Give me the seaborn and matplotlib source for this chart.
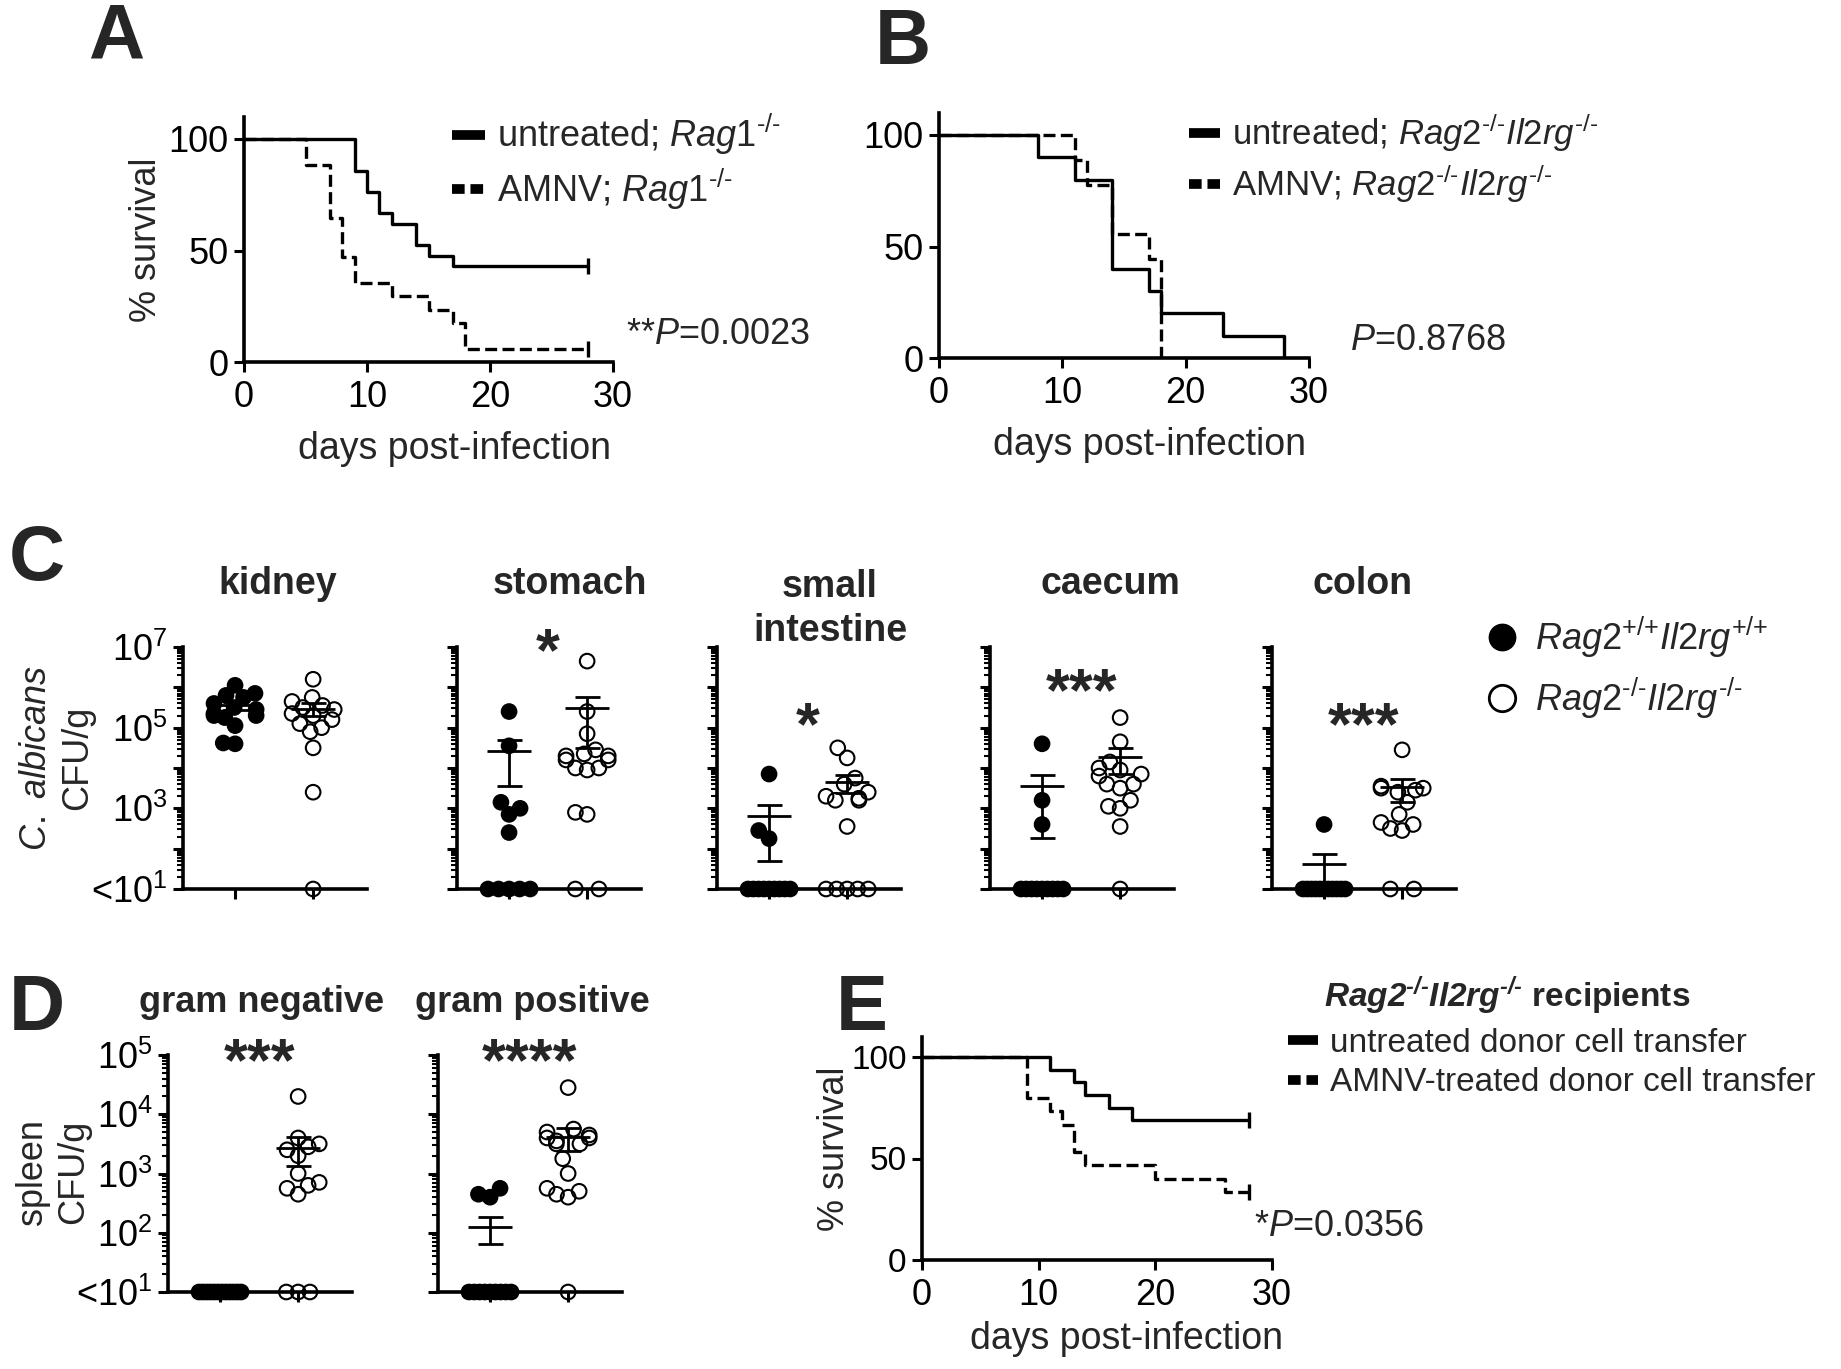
import warnings
import numpy as np
import pandas as pd
import matplotlib
matplotlib.use("Agg")
import matplotlib.pyplot as plt
from matplotlib.lines import Line2D
import seaborn as sns

warnings.filterwarnings("ignore")

# survival curves: day of each step and % survival after it
a_untreated_day = [0, 9, 10, 11, 12, 14, 15, 17, 28]
a_untreated_surv = [100, 85.7, 76.2, 66.7, 61.9, 52.4, 47.6, 42.9, 42.9]
a_amnv_day = [0, 5, 7, 8, 9, 12, 15, 17, 18, 28]
a_amnv_surv = [100, 88.2, 64.7, 47.1, 35.3, 29.4, 23.5, 17.6, 5.9, 5.9]

b_untreated_day = [0, 8, 11, 14, 17, 18, 23, 28]
b_untreated_surv = [100, 90, 80, 40, 30, 20, 10, 0]
b_amnv_day = [0, 11, 12, 14, 17, 18]
b_amnv_surv = [100, 88.9, 77.8, 55.6, 44.4, 0]

e_untreated_day = [0, 11, 13, 14, 16, 18, 28]
e_untreated_surv = [100, 93.8, 87.5, 81.3, 75.0, 68.8, 68.8]
e_amnv_day = [0, 9, 11, 12, 13, 14, 20, 26, 28]
e_amnv_surv = [100, 80.0, 73.3, 66.7, 53.3, 46.7, 40.0, 33.3, 33.3]

# CFU/g as log10, 1 means below detection (<10^1)
organs = ["kidney", "stomach", "small\nintestine", "caecum", "colon"]
kidney_wt = [6.05, 5.85, 5.8, 5.75, 5.6, 5.5, 5.45, 5.35, 5.3, 5.3, 5.25, 5.05, 4.62, 4.6]
kidney_ko = [6.2, 5.75, 5.65, 5.55, 5.5, 5.45, 5.35, 5.3, 5.2, 5.1, 5.0, 4.9, 4.5, 3.4, 1]
stomach_wt = [5.4, 4.55, 3.15, 3.0, 2.85, 2.4, 1, 1, 1, 1, 1]
stomach_ko = [6.65, 5.4, 4.85, 4.45, 4.35, 4.3, 4.3, 4.2, 4.2, 4.0, 4.0, 3.95, 2.9, 2.85, 1, 1]
small_int_wt = [3.85, 2.45, 2.25, 1, 1, 1, 1, 1, 1, 1, 1, 1]
small_int_ko = [4.5, 4.25, 3.75, 3.6, 3.4, 3.3, 3.25, 3.2, 3.2, 2.55, 1, 1, 1, 1, 1]
caecum_wt = [4.6, 3.2, 2.6, 1, 1, 1, 1, 1, 1, 1, 1, 1]
caecum_ko = [5.25, 4.65, 4.15, 4.0, 3.95, 3.85, 3.8, 3.6, 3.6, 3.5, 3.2, 3.05, 3.0, 2.55, 1]
colon_wt = [2.6, 1, 1, 1, 1, 1, 1, 1, 1, 1, 1, 1]
colon_ko = [4.45, 3.55, 3.5, 3.5, 3.45, 3.4, 3.15, 2.85, 2.65, 2.6, 2.5, 2.45, 1, 1]
c_stars = ["", "*", "*", "***", "***"]
c_star_y = [0, 6.8, 4.97, 5.83, 4.97]

bacteria = ["gram negative", "gram positive"]
gramneg_wt = [1, 1, 1, 1, 1, 1, 1, 1, 1, 1, 1, 1]
gramneg_ko = [4.3, 3.6, 3.5, 3.45, 3.4, 3.3, 3.0, 2.85, 2.8, 2.75, 2.65, 1, 1, 1]
grampos_wt = [2.75, 2.65, 2.6, 1, 1, 1, 1, 1, 1, 1, 1, 1]
grampos_ko = [4.45, 3.75, 3.7, 3.65, 3.6, 3.6, 3.55, 3.5, 3.5, 3.25, 3.0, 2.75, 2.7, 2.65, 2.6, 1]
d_stars = ["***", "****"]
d_star_y = [4.83, 4.83]

sns.set_theme(style="ticks")
plt.rcParams["font.family"] = ["Liberation Sans", "DejaVu Sans"]
plt.rcParams["mathtext.fontset"] = "custom"
plt.rcParams["mathtext.rm"] = "Liberation Sans"
plt.rcParams["mathtext.it"] = "Liberation Sans:italic"
plt.rcParams["mathtext.bf"] = "Liberation Sans:bold"
try:
    plt.rcParams["mathtext.bfit"] = "Liberation Sans:italic:bold"
except KeyError:
    pass

W, H = 1841, 1369
FS = 26
HY = "\u2010"  # plain hyphen, so mathtext adds no operator spacing
KO = "{%s/%s}" % (HY, HY)
PL = "{{+}/{+}}"
SWARM_HALF = 0.27
fig = plt.figure(figsize=(W / 100, H / 100), dpi=100)


def fx(px):
    return px / W


def fy(py):
    return 1 - py / H


def add_ax(left, top, right, bottom):
    return fig.add_axes([fx(left), fy(bottom), (right - left) / W, (bottom - top) / H])


def style(ax):
    sns.despine(ax=ax)
    for s in ("left", "bottom"):
        ax.spines[s].set_linewidth(2.6)
        ax.spines[s].set_color("black")
    ax.tick_params(which="major", direction="out", length=7, width=2.2, colors="black",
                   labelsize=FS)
    ax.tick_params(axis="x", pad=6)
    ax.tick_params(axis="y", pad=4)
    ax.tick_params(which="minor", direction="out", length=4, width=1.5, colors="black")
    ax.set_facecolor("none")
    ax.grid(False)


def km_panel(ax, curves, labels, leg_xy, leg_fs, p_text, p_xy, lab_x):
    for (day, surv), ls in zip(curves, ["-", (0, (3.6, 1.6))]):
        df = pd.DataFrame({"day": day, "surv": surv})
        sns.lineplot(data=df, x="day", y="surv", drawstyle="steps-post", estimator=None,
                     sort=False, color="black", lw=2.4, linestyle=ls, ax=ax)
        if surv[-1] > 0:
            ax.plot(day[-1], surv[-1], marker="|", ms=12, mew=2.4, color="black")
    style(ax)
    ax.set_xlim(0, 30)
    ax.set_ylim(0, 110)
    ax.set_xticks([0, 10, 20, 30])
    ax.set_yticks([0, 50, 100])
    ax.set_xlabel("")
    ax.set_ylabel("")
    ax.text(lab_x, -0.355, "days post-infection", transform=ax.transAxes,
            ha="center", va="center", fontsize=27)
    h_solid = Line2D([], [], color="black", lw=7, solid_capstyle="butt")
    h_dash = Line2D([], [], color="black", lw=7, linestyle=(0, (1.3, 0.6)),
                    dash_capstyle="butt")
    ax.legend([h_solid, h_dash], labels, loc="center left", bbox_to_anchor=leg_xy,
              bbox_transform=fig.transFigure, frameon=False, fontsize=leg_fs,
              handlelength=0.9, handletextpad=0.35, labelspacing=0.25,
              borderpad=0, borderaxespad=0)
    fig.text(p_xy[0], p_xy[1], p_text, ha="left", va="center", fontsize=FS)


def cfu_panel(ax, wt, ko, top, star, star_y, labels):
    df = pd.DataFrame({"group": ["wt"] * len(wt) + ["ko"] * len(ko), "log_cfu": wt + ko})
    sns.swarmplot(data=df, x="group", y="log_cfu", hue="group", order=["wt", "ko"],
                  palette={"wt": "black", "ko": "white"}, size=10.5, edgecolor="black",
                  linewidth=1.5, legend=False, clip_on=False, zorder=3, ax=ax)
    for coll in ax.collections:
        fc = coll.get_facecolor()
        if len(fc) and fc[0][0] > 0.5:
            coll.set_facecolor("none")
    for i, vals in enumerate([wt, ko]):
        lin = 10 ** np.array(vals)
        m = lin.mean()
        se = lin.std(ddof=1) / np.sqrt(len(lin))
        lo = np.log10(max(m - se, 10))
        hi = np.log10(m + se)
        ax.hlines(np.log10(m), i - 0.28, i + 0.28, color="black", lw=2, zorder=4, clip_on=False)
        ax.vlines(i, lo, hi, color="black", lw=2, zorder=4, clip_on=False)
        ax.hlines([lo, hi], i - 0.16, i + 0.16, color="black", lw=2, zorder=4, clip_on=False)
    style(ax)
    ax.set_xlim(-0.667, 1.69)
    ax.set_ylim(1, top)
    ax.set_xticks([0, 1], labels=["", ""])
    majors = np.arange(1, top + 1)
    ax.set_yticks(majors, labels=labels)
    minors = [np.log10(k) + d for d in range(1, top) for k in range(2, 10)]
    ax.set_yticks(minors, minor=True)
    ax.set_xlabel("")
    ax.set_ylabel("")
    if star:
        ax.text(0.5, star_y, star, ha="center", va="center", fontsize=44,
                fontweight="bold", clip_on=False)
    swarm_axes.append(ax)


swarm_axes = []

# ---------------- A
ax_a = add_ax(244, 116.7, 613, 362)
km_panel(ax_a, [(a_untreated_day, a_untreated_surv), (a_amnv_day, a_amnv_surv)],
         [r"untreated; $\mathit{Rag1}^%s$" % KO, r"AMNV; $\mathit{Rag1}^%s$" % KO],
         (fx(452), fy(162)), FS, r"**$\mathit{P}$=0.0023", (fx(626), fy(335)), 0.57)
ax_a.text(-0.263, 0.5, "% survival", transform=ax_a.transAxes, rotation=90,
          ha="center", va="center", fontsize=FS)

# ---------------- B
ax_b = add_ax(939, 112.7, 1309, 358)
km_panel(ax_b, [(b_untreated_day, b_untreated_surv), (b_amnv_day, b_amnv_surv)],
         [r"untreated; $\mathit{Rag2}^%s\mathit{Il2rg}^%s$" % (KO, KO),
          r"AMNV; $\mathit{Rag2}^%s\mathit{Il2rg}^%s$" % (KO, KO)],
         (fx(1189), fy(158)), 25, r"$\mathit{P}$=0.8768", (fx(1350), fy(340)), 0.57)

# ---------------- E
ax_e = add_ax(922, 1036.7, 1272, 1260)
km_panel(ax_e, [(e_untreated_day, e_untreated_surv), (e_amnv_day, e_amnv_surv)],
         ["untreated donor cell transfer", "AMNV-treated donor cell transfer"],
         (fx(1288), fy(1063)), 24, r"*$\mathit{P}$=0.0356", (fx(1254), fy(1227)), 0.585)
ax_e.tick_params(axis="y", labelsize=24)
ax_e.text(-0.251, 0.5, "% survival", transform=ax_e.transAxes, rotation=90,
          ha="center", va="center", fontsize=FS)
fig.text(fx(1324), fy(996),
         r"$\mathbfit{Rag2}^{\mathbfit{%s/%s}}\mathbfit{Il2rg}^{\mathbfit{%s/%s}}$ recipients"
         % (HY, HY, HY, HY),
         ha="left", va="center", fontsize=24, fontweight="bold")

# ---------------- C
c_lefts = [183, 457, 717, 990, 1272]
c_title_x = [278, 570, 830, 1110, 1363]
c_data = [(kidney_wt, kidney_ko), (stomach_wt, stomach_ko), (small_int_wt, small_int_ko),
          (caecum_wt, caecum_ko), (colon_wt, colon_ko)]
c_labels = ["<" + r"$\mathregular{10^1}$", "", r"$\mathregular{10^3}$", "",
            r"$\mathregular{10^5}$", "", r"$\mathregular{10^7}$"]
for i, (organ, (wt, ko)) in enumerate(zip(organs, c_data)):
    ax = add_ax(c_lefts[i], 647, c_lefts[i] + 184, 889)
    cfu_panel(ax, wt, ko, 7, c_stars[i], c_star_y[i],
              c_labels if i == 0 else [""] * 7)
    fig.text(fx(c_title_x[i]), fy(609 if "\n" in organ else 584), organ, ha="center",
             va="center", fontsize=27, fontweight="bold", linespacing=1.3)
fig.text(fx(57), fy(758), r"$\mathit{C.\ albicans}$" + "\nCFU/g", rotation=90,
         ha="center", va="center", fontsize=FS, linespacing=1.25)
h_wt = Line2D([], [], ls="", marker="o", ms=19, mfc="black", mec="black")
h_ko = Line2D([], [], ls="", marker="o", ms=19, mfc="none", mec="black", mew=2)
fig.legend([h_wt, h_ko],
           [r"$\mathit{Rag2}^{\mathit{%s}}\mathit{Il2rg}^{\mathit{%s}}$" % (PL, PL),
            r"$\mathit{Rag2}^%s\mathit{Il2rg}^%s$" % (KO, KO)],
           loc="center left", bbox_to_anchor=(fx(1484), fy(668)), frameon=False,
           fontsize=FS, handlelength=1.0, handletextpad=0.4, labelspacing=0.45,
           borderpad=0, borderaxespad=0)

# ---------------- D
d_lefts = [168, 438]
d_data = [(gramneg_wt, gramneg_ko), (grampos_wt, grampos_ko)]
d_labels = ["<" + r"$\mathregular{10^1}$", r"$\mathregular{10^2}$", r"$\mathregular{10^3}$",
            r"$\mathregular{10^4}$", r"$\mathregular{10^5}$"]
for i, (name, (wt, ko)) in enumerate(zip(bacteria, d_data)):
    ax = add_ax(d_lefts[i], 1055, d_lefts[i] + 184, 1292)
    cfu_panel(ax, wt, ko, 5, d_stars[i], d_star_y[i], d_labels if i == 0 else [""] * 5)
    fig.text(fx(d_lefts[i] + 94), fy(1002), name, ha="center", va="center",
             fontsize=FS, fontweight="bold")
fig.text(fx(53), fy(1172), "spleen\nCFU/g", rotation=90, ha="center", va="center",
         fontsize=FS, linespacing=1.25)

# ---------------- panel letters
for letter, x, y in [("A", 88, 59), ("B", 875, 64), ("C", 9, 580), ("D", 9, 1030),
                     ("E", 836, 1030)]:
    fig.text(fx(x), fy(y), letter, ha="left", va="baseline", fontsize=56,
             fontweight="bold")

# lay out the swarms once, then pack them tighter with overlap (Prism-like)
fig.canvas.draw()
for ax in swarm_axes:
    for coll in ax.collections:
        if "draw" not in coll.__dict__:
            continue
        del coll.__dict__["draw"]
        off = np.asarray(coll.get_offsets()).copy()
        if len(off) == 0:
            continue
        center = np.round(off[:, 0].mean())
        dx = off[:, 0] - center
        if np.abs(dx).max() > SWARM_HALF:
            dx = dx * SWARM_HALF / np.abs(dx).max()
        # points sharing one value: spread evenly, centred on the category
        for yv in np.unique(np.round(off[:, 1], 4)):
            idx = np.where(np.round(off[:, 1], 4) == yv)[0]
            if len(idx) < 2:
                continue
            ext = np.abs(dx[idx]).max()
            ranks = np.argsort(np.argsort(dx[idx], kind="stable"), kind="stable")
            dx[idx] = np.linspace(-ext, ext, len(idx))[ranks]
        off[:, 0] = center + dx
        coll.set_offsets(off)

fig.savefig("out.png", dpi=100, facecolor="white")
